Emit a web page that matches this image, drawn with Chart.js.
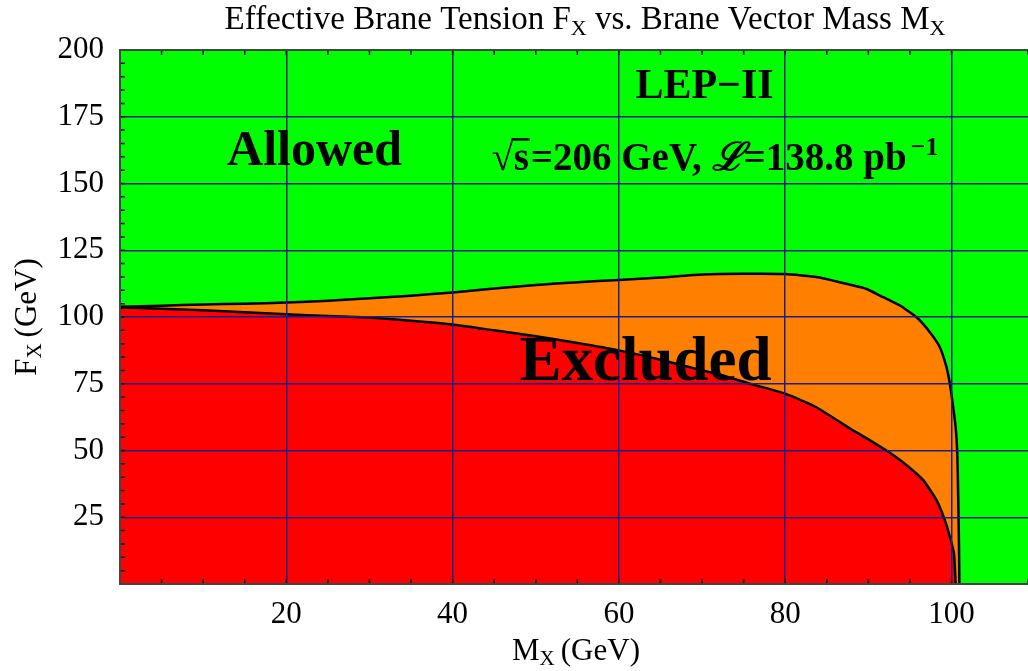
<!DOCTYPE html>
<html>
<head>
<meta charset="utf-8">
<script src="https://cdn.jsdelivr.net/npm/chart.js@4.4.0/dist/chart.umd.min.js"></script>
<style>
  html, body { margin: 0; padding: 0; background: #fff; }
  #wrap { width: 1028px; height: 671px; }
</style>
</head>
<body>
<div id="wrap"><canvas id="myChart"></canvas></div>
<script>
// upper edge of the excluded region (orange / green boundary)
const upperMass    = [0, 5, 10, 15, 20, 25, 30, 35, 40, 45, 50, 55, 60, 65, 70, 75, 80, 84, 87.8, 89.8, 91.8, 93.8, 95.8, 97.4, 98.6, 99.4, 99.8, 100.2, 100.5, 100.7, 100.8, 100.9, 100.95];
const upperTension = [103.8, 104.2, 104.7, 105, 105.4, 106.1, 107, 108, 109.2, 110.7, 112, 113, 113.9, 114.8, 115.9, 116.2, 116.1, 114.9, 112.1, 110.5, 107.4, 104.3, 99.9, 94.3, 88.7, 81.2, 75, 66.3, 58.8, 48.9, 33.9, 15, 0];
// lower edge (red / orange boundary)
const lowerMass    = [0, 5, 10, 15, 20, 25, 30, 35, 40, 45, 50, 55, 60, 65, 70, 72.5, 76, 80, 83.7, 87.8, 90.2, 92.4, 94.6, 96.6, 98.2, 99.2, 99.8, 100.3, 100.5];
const lowerTension = [103.6, 103.1, 102.5, 101.8, 101, 100.4, 99.8, 98.6, 97.2, 95, 92.8, 90.3, 87.5, 84, 80, 78.1, 74.8, 71.3, 66.3, 58.2, 53.8, 49.5, 44.5, 38.9, 31.4, 23.9, 17.7, 11.5, 0];

const xTickLabels = [20, 40, 60, 80, 100];
const yTickLabels = [25, 50, 75, 100, 125, 150, 175, 200];

const NAVY = '#1c1c8a';
const SERIF = '"Liberation Serif", "Times New Roman", serif';

function toPoints(xs, ys) {
  return xs.map((x, i) => ({ x: x, y: ys[i] }));
}

function drawParts(ctx, parts, x, y, align) {
  let total = 0;
  parts.forEach(p => { ctx.font = p.font; total += ctx.measureText(p.t).width + (p.gap || 0); });
  let cx = align === 'center' ? x - total / 2 : x;
  ctx.textAlign = 'left';
  ctx.textBaseline = 'alphabetic';
  parts.forEach(p => {
    ctx.font = p.font;
    const w = ctx.measureText(p.t).width;
    ctx.fillText(p.t, cx, y + (p.dy || 0));
    if (p.overline) {
      ctx.fillRect(cx - 2, y - p.overline, w + 3, 2.5);
    }
    cx += w + (p.gap || 0);
  });
}

const background = {
  id: 'background',
  beforeDatasetsDraw(chart) {
    const a = chart.chartArea;
    const ctx = chart.ctx;
    ctx.save();
    ctx.fillStyle = '#00ff00';
    ctx.fillRect(a.left, a.top, a.right - a.left, a.bottom - a.top);
    ctx.restore();
  }
};

const decorations = {
  id: 'decorations',
  afterDraw(chart) {
    const ctx = chart.ctx;
    const a = chart.chartArea;
    const xs = chart.scales.x, ys = chart.scales.y;
    ctx.save();

    // inner tick marks on all sides
    ctx.strokeStyle = '#111';
    ctx.lineWidth = 1.5;
    ctx.beginPath();
    xs.ticks.forEach(t => {
      const px = xs.getPixelForValue(t.value);
      ctx.moveTo(px, a.top); ctx.lineTo(px, a.top + 5);
      ctx.moveTo(px, a.bottom); ctx.lineTo(px, a.bottom - 5);
    });
    ys.ticks.forEach(t => {
      const py = ys.getPixelForValue(t.value);
      ctx.moveTo(a.left, py); ctx.lineTo(a.left + 5, py);
    });
    ctx.stroke();

    // frame
    ctx.strokeStyle = '#444';
    ctx.lineWidth = 2;
    ctx.beginPath();
    ctx.moveTo(a.right + 2, a.top); ctx.lineTo(a.left, a.top);
    ctx.lineTo(a.left, a.bottom); ctx.lineTo(a.right + 2, a.bottom);
    ctx.stroke();

    ctx.fillStyle = '#000';
    // title
    drawParts(ctx, [
      { t: 'Effective Brane Tension F', font: '33px ' + SERIF },
      { t: 'X', font: '22px ' + SERIF, dy: 6 },
      { t: ' vs. Brane Vector Mass M', font: '33px ' + SERIF },
      { t: 'X', font: '22px ' + SERIF, dy: 6 }
    ], 585, 29, 'center');

    // axis titles
    drawParts(ctx, [
      { t: 'M', font: '31px ' + SERIF },
      { t: 'X', font: '21px ' + SERIF, dy: 5, gap: 6 },
      { t: '(GeV)', font: '31px ' + SERIF }
    ], 576, 660, 'center');
    ctx.save();
    ctx.translate(36, 317);
    ctx.rotate(-Math.PI / 2);
    drawParts(ctx, [
      { t: 'F', font: '31px ' + SERIF },
      { t: 'X', font: '21px ' + SERIF, dy: 5, gap: 6 },
      { t: '(GeV)', font: '31px ' + SERIF }
    ], 0, 0, 'center');
    ctx.restore();

    // annotations, placed in data coordinates
    drawParts(ctx, [{ t: 'Allowed', font: 'bold 50px ' + SERIF }],
      xs.getPixelForValue(23.4), ys.getPixelForValue(157), 'center');
    drawParts(ctx, [{ t: 'Excluded', font: 'bold 63px ' + SERIF }],
      xs.getPixelForValue(63.2), ys.getPixelForValue(76.4), 'center');
    drawParts(ctx, [{ t: 'LEP\u2212II', font: 'bold 42px ' + SERIF }],
      xs.getPixelForValue(70.3), ys.getPixelForValue(182), 'center');
    drawParts(ctx, [
      { t: '\u221A', font: 'bold 40px ' + SERIF },
      { t: 's', font: 'bold 39px ' + SERIF, overline: 32, gap: 2 },
      { t: '=206 GeV, ', font: 'bold 39px ' + SERIF },
      { t: '\u2112', font: 'italic bold 39px ' + SERIF },
      { t: '=138.8 pb', font: 'bold 39px ' + SERIF, gap: 4 },
      { t: '\u22121', font: 'bold 26px ' + SERIF, dy: -15 }
    ], xs.getPixelForValue(44.7), ys.getPixelForValue(155), 'left');

    ctx.restore();
  }
};

const gridColor = labels => c => {
  const v = c.tick ? c.tick.value : null;
  return labels.includes(v) && v !== 200 ? NAVY : 'rgba(0,0,0,0)';
};

new Chart(document.getElementById('myChart').getContext('2d'), {
  type: 'line',
  data: {
    datasets: [{
      label: 'Red region boundary',
      data: toPoints(lowerMass, lowerTension),
      borderColor: '#000',
      borderWidth: 2.5,
      backgroundColor: '#ff0000',
      fill: 'origin',
      pointRadius: 0,
      tension: 0.15,
      order: 1
    }, {
      label: 'Orange region boundary',
      data: toPoints(upperMass, upperTension),
      borderColor: '#000',
      borderWidth: 2.5,
      backgroundColor: '#ff8000',
      fill: 'origin',
      pointRadius: 0,
      tension: 0.15,
      order: 2
    }]
  },
  options: {
    responsive: true,
    maintainAspectRatio: false,
    animation: false,
    layout: { padding: { top: 50, left: 0, right: 0, bottom: 0 } },
    plugins: {
      legend: { display: false },
      tooltip: { enabled: false },
      title: { display: false }
    },
    scales: {
      x: {
        type: 'linear',
        min: 0,
        max: 109.2,
        border: { display: false },
        grid: { z: 1, color: gridColor(xTickLabels), lineWidth: 1.5, drawTicks: false },
        ticks: {
          stepSize: 5,
          autoSkip: false,
          maxRotation: 0,
          padding: 12,
          color: '#000',
          font: { family: SERIF, size: 31 },
          callback: v => xTickLabels.includes(v) ? String(v) : ''
        },
        afterFit: s => { s.height = 87; s.paddingLeft = 0; s.paddingRight = 0; }
      },
      y: {
        type: 'linear',
        min: 0,
        max: 200,
        border: { display: false },
        grid: { z: 1, color: gridColor(yTickLabels), lineWidth: 1.5, drawTicks: false },
        ticks: {
          stepSize: 5,
          autoSkip: false,
          padding: 16,
          color: '#000',
          font: { family: SERIF, size: 31 },
          callback: v => yTickLabels.includes(v) ? String(v) : ''
        },
        afterFit: s => { s.width = 120; s.paddingTop = 0; s.paddingBottom = 0; }
      }
    }
  },
  plugins: [background, decorations]
});
</script>
</body>
</html>
